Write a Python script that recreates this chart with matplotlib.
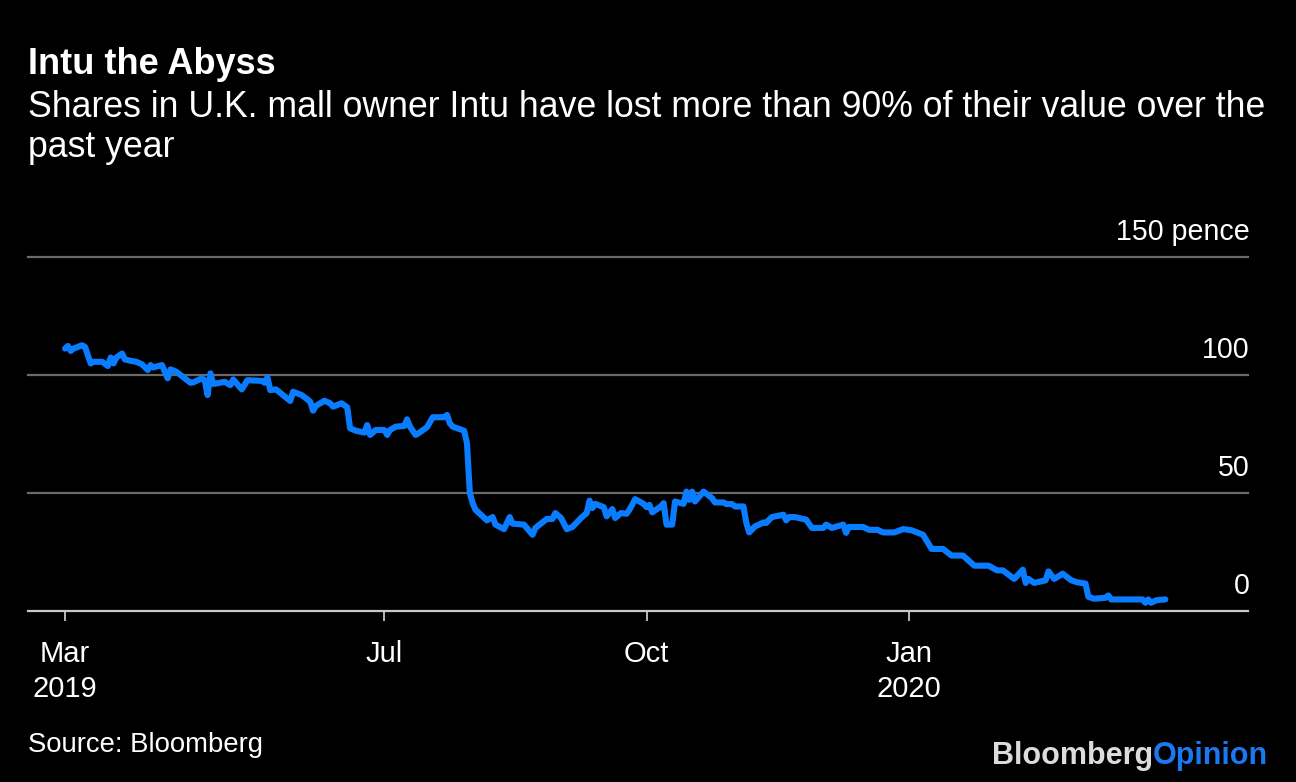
import numpy as np
import pandas as pd
import matplotlib
matplotlib.use("Agg")
import matplotlib.pyplot as plt

# Intu share price in pence
start = "2019-03-11"
days = [0, 1, 2, 3, 6, 7, 9, 10, 13, 15, 16, 17, 18, 20, 21, 23, 25, 27, 29, 30,
        31, 34, 36, 37, 39, 44, 45, 48, 49, 50, 51, 52, 56, 58, 59, 62, 64, 69, 70, 71,
        72, 74, 79, 80, 83, 85, 86, 87, 88, 91, 93, 94, 97, 99, 100, 102, 105, 106, 107, 109,
        112, 113, 114, 116, 119, 120, 121, 123, 124, 127, 129, 133, 134, 135, 136, 140, 141, 142, 143, 144,
        148, 150, 151, 154, 156, 157, 161, 164, 165, 169, 171, 172, 174, 176, 178, 181, 183, 184, 185, 186,
        189, 190, 192, 193, 195, 197, 198, 200, 203, 204, 205, 206, 209, 210, 211, 213, 214, 216, 217, 218,
        219, 220, 221, 224, 227, 228, 231, 232, 234, 235, 238, 239, 240, 242, 245, 246, 247, 248, 252, 253,
        254, 256, 260, 262, 266, 267, 269, 273, 274, 275, 280, 282, 285, 287, 291, 294, 297, 301, 304, 308,
        311, 315, 319, 324, 327, 329, 331, 333, 336, 337, 338, 340, 344, 345, 347, 350, 353, 355, 358, 359,
        361, 365, 366, 367, 378, 379, 380, 381, 383, 386]
price = [111.2, 112.3, 110.2, 111.2, 112.6, 111.9, 104.9, 105.6, 105.6, 103.8, 107.4, 104.9, 107.4, 109.1, 106.6, 106.0, 105.6, 104.5, 102.1, 104.2,
         103.2, 104.2, 98.6, 102.4, 101.4, 96.7, 96.9, 98.6, 97.8, 91.5, 100.7, 96.2, 97.1, 95.7, 98.1, 93.9, 97.8, 97.5, 96.7, 99.0,
         93.6, 93.9, 89.0, 92.9, 91.5, 89.7, 88.7, 84.9, 86.9, 89.1, 88.0, 86.6, 88.0, 86.3, 77.4, 76.4, 75.6, 78.8, 74.6, 76.7,
         76.7, 74.6, 76.7, 78.1, 78.4, 81.2, 78.1, 74.6, 75.3, 77.9, 82.1, 82.1, 83.1, 79.5, 78.1, 76.4, 71.1, 50.0, 45.7, 42.9,
         38.4, 39.8, 36.6, 34.7, 39.8, 37.0, 36.6, 32.3, 35.2, 39.0, 39.0, 41.5, 39.4, 34.7, 35.6, 39.4, 41.5, 46.8, 43.6, 45.4,
         44.0, 40.1, 43.2, 39.4, 41.5, 41.2, 42.9, 47.4, 45.4, 44.0, 45.0, 41.8, 44.3, 45.7, 36.6, 36.6, 46.4, 45.7, 45.4, 50.6,
         47.1, 50.6, 46.4, 50.6, 47.8, 46.0, 46.0, 45.3, 45.3, 44.3, 44.3, 37.3, 33.3, 35.8, 37.5, 37.3, 38.7, 39.8, 40.8, 38.4,
         39.8, 39.8, 38.7, 35.2, 35.2, 36.6, 35.2, 36.6, 33.1, 35.6, 35.6, 34.4, 34.4, 33.3, 33.3, 34.7, 34.2, 32.3, 26.3, 26.3,
         23.5, 23.5, 19.2, 19.2, 17.2, 17.2, 15.4, 13.6, 17.5, 11.9, 13.6, 11.9, 13.0, 16.8, 13.6, 15.8, 13.0, 12.2, 11.6, 6.0,
         5.2, 5.6, 6.6, 4.9, 4.9, 3.5, 4.9, 3.5, 4.6, 4.9]

tick_dates = ["2019-03-11", "2019-07-01", "2019-10-01", "2020-01-01"]
tick_labels = ["Mar\n2019", "Jul", "Oct", "Jan\n2020"]
y_levels = [0, 50, 100, 150]
y_labels = ["0", "50", "100", "150 pence"]

dates = pd.Timestamp(start) + pd.to_timedelta(days, unit="D")

BG = "black"
BLUE = "#0a7cff"
FONT = "Liberation Sans"
plt.rcParams["font.family"] = [FONT, "DejaVu Sans"]

fig = plt.figure(figsize=(12.96, 7.82), dpi=100, facecolor=BG)
ax = fig.add_axes([28 / 1296, (782 - 611) / 782, 1220 / 1296, 354 / 782])
ax.set_facecolor(BG)

for lvl in y_levels[1:]:
    ax.axhline(lvl, color="#6a6a6a", lw=1.6, zorder=1, clip_on=False)
ax.axhline(0, color="#c8c8c8", lw=1.6, zorder=1, clip_on=False)

ax.plot(dates, price, color=BLUE, lw=4.4, solid_joinstyle="round",
        solid_capstyle="round", zorder=3, clip_on=False)

ax.set_ylim(0, 150)
ax.set_xlim(pd.Timestamp("2019-02-26"), pd.Timestamp("2020-04-29"))
for s in ax.spines.values():
    s.set_visible(False)

ax.set_yticks([])
ax.set_xticks(pd.to_datetime(tick_dates))
ax.set_xticklabels(tick_labels, color="white", fontsize=21, linespacing=1.3)
ax.tick_params(axis="x", length=7, width=1.3, color="#c8c8c8", pad=14)

for lvl, lab in zip(y_levels, y_labels):
    ax.annotate(lab, xy=(1.0, lvl), xycoords=("axes fraction", "data"),
                xytext=(1, 12), textcoords="offset points",
                ha="right", va="baseline", color="white", fontsize=20.6)

fig.text(28 / 1296, 1 - 74 / 782, "Intu the Abyss", color="white",
         fontsize=26, fontweight="bold", va="baseline")
fig.text(28 / 1296, 1 - 117 / 782,
         "Shares in U.K. mall owner Intu have lost more than 90% of their value over the",
         color="white", fontsize=25.7, va="baseline")
fig.text(28 / 1296, 1 - 157 / 782, "past year",
         color="white", fontsize=25.7, va="baseline")
fig.text(28 / 1296, 1 - 752 / 782, "Source: Bloomberg", color="white",
         fontsize=19.8, va="baseline")

t1 = fig.text(1268 / 1296, 1 - 764 / 782, "Opinion", color="#1a78f0",
              fontsize=22, fontweight="bold", ha="right", va="baseline")
fig.canvas.draw()
bb = t1.get_window_extent()
fig.text(bb.x0 / 1296, 1 - 764 / 782, "Bloomberg", color="#dcdcdc",
         fontsize=22, fontweight="bold", ha="right", va="baseline")

fig.savefig("out.png", dpi=100, facecolor=BG)
